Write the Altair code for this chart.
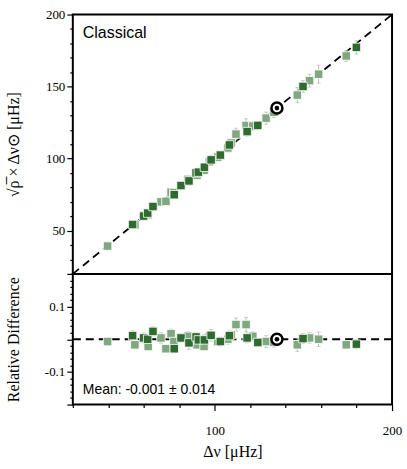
import altair as alt
import pandas as pd

# --- data ---
dnu = [39.6, 53.7, 55.0, 59.9, 62.2, 62.5, 65.2, 69.7, 72.5, 75.4, 77.2, 77.0, 81.0,
       84.8, 85.5, 89.5, 90.0, 90.8, 94.2, 94.0, 97.0, 98.0, 101.7, 103.2, 107.4, 108.3,
       109.3, 112.0, 117.7, 118.3, 121.5, 124.3, 129.0, 133.4, 146.6, 149.8, 153.5,
       158.6, 174.2, 179.9]
rel = [-0.007, 0.011, -0.017, 0.004, 0.000, -0.022, 0.024, 0.004, -0.029, 0.017, -0.029,
       -0.007, 0.004, 0.009, -0.011, 0.007, -0.017, -0.002, -0.002, -0.022, 0.009, 0.012,
       -0.007, -0.007, 0.000, 0.011, 0.014, 0.045, 0.045, 0.004, 0.009, -0.010, -0.007,
       -0.009, -0.017, 0.002, 0.004, 0.000, -0.017, -0.015]
err = [0.010, 0.015, 0.012, 0.015, 0.012, 0.010, 0.014, 0.016, 0.010, 0.014, 0.012,
       0.018, 0.012, 0.015, 0.020, 0.014, 0.010, 0.012, 0.016, 0.010, 0.012, 0.018,
       0.012, 0.014, 0.015, 0.016, 0.014, 0.020, 0.022, 0.015, 0.014, 0.012, 0.018,
       0.015, 0.020, 0.015, 0.016, 0.022, 0.012, 0.014]
shade = ["light", "dark", "light", "dark", "dark", "light", "dark", "light", "light",
         "light", "dark", "light", "dark", "light", "dark", "dark", "light", "dark",
         "dark", "light", "light", "dark", "light", "dark", "light", "dark", "light",
         "light", "light", "dark", "light", "dark", "light", "light", "light", "dark",
         "light", "light", "light", "dark"]
sun_dnu = [135.1]
sun_rel = [0.0]
line_x = [20, 200]
line_y = [20, 200]
zero_y = [0.0, 0.0]
panel_label = ["Classical"]
mean_label = ["Mean: -0.001 ± 0.014"]

X_DOM = [20, 200]
Y_DOM = [20, 200]
R_DOM = [-0.2, 0.2]

df = pd.DataFrame({"x": dnu, "r": rel, "e": err, "shade": shade})
df["y"] = df["x"] * (1 + df["r"])
df["ylo"] = df["x"] * (1 + df["r"] - 1.8 * df["e"])
df["yhi"] = df["x"] * (1 + df["r"] + 1.8 * df["e"])
df["rlo"] = df["r"] - df["e"]
df["rhi"] = df["r"] + df["e"]

sun = pd.DataFrame({"x": sun_dnu, "y": sun_dnu, "r": sun_rel})
diag = pd.DataFrame({"x": line_x, "y": line_y})
zero = pd.DataFrame({"x": line_x, "r": zero_y})

SERIF = "Liberation Serif"
SANS = "Liberation Sans"
GREY = "#b9b9b9"
colors = alt.Scale(domain=["light", "dark"], range=["#80a880", "#2f6b2f"])

xs = alt.Scale(domain=X_DOM, nice=False, zero=False)
ys = alt.Scale(domain=Y_DOM, nice=False, zero=False)
rs = alt.Scale(domain=R_DOM, nice=False, zero=False)

x_ticks = list(range(20, 201, 20))
y_ticks = list(range(20, 201, 10))
r_ticks = [round(-0.2 + 0.02 * i, 2) for i in range(21)]

ax_top_y = alt.Axis(values=y_ticks, title="√ρ̅ × Δν⊙ [μHz]",
                    labelExpr="datum.value % 50 === 0 ? datum.label : ''",
                    tickSize={"condition": {"test": "datum.value % 50 === 0", "value": 6}, "value": 3},
                    grid=False, domain=False, labelOverlap=False, labelFlush=False,
                    titleX=-51, titleY=130)
ax_bot_y = alt.Axis(values=r_ticks, title="Relative Difference",
                    labelExpr="abs(abs(datum.value) - 0.1) < 1e-6 ? (datum.value < 0 ? '-0.1' : '0.1') : ''",
                    tickSize={"condition": {"test": "abs(datum.value*10 - round(datum.value*10)) < 1e-6",
                                            "value": 6}, "value": 3},
                    grid=False, domain=False, labelOverlap=False, labelFlush=False,
                    titleX=-51, titleY=65.5)
ax_bot_x = alt.Axis(values=x_ticks, title="Δν [μHz]",
                    labelExpr="datum.value % 100 === 0 ? datum.label : ''",
                    tickSize={"condition": {"test": "datum.value % 100 === 0", "value": 6}, "value": 3},
                    grid=False, domain=False, labelOverlap=False, labelFlush=False,
                    labelBound=False, labelPadding=14, titlePadding=6)


def panel(yfield, lo, hi, scale, xaxis, yaxis, line_df, line_y, label, label_y, label_size, height):
    def X():
        return alt.X("x:Q", scale=xs, axis=xaxis)

    def Y(field):
        return alt.Y(f"{field}:Q", scale=scale, axis=yaxis)

    line = alt.Chart(line_df).mark_line(color="black", strokeDash=[8, 5], strokeWidth=1.8).encode(
        x=X(), y=Y(line_y))
    err_rule = alt.Chart(df).mark_rule(color=GREY, strokeWidth=1).encode(
        x=X(), y=Y(lo), y2=f"{hi}:Q")
    cap_lo = alt.Chart(df).mark_tick(color=GREY, orient="horizontal", size=4, thickness=1).encode(
        x=X(), y=Y(lo))
    cap_hi = alt.Chart(df).mark_tick(color=GREY, orient="horizontal", size=4, thickness=1).encode(
        x=X(), y=Y(hi))
    pts = alt.Chart(df).mark_point(shape="square", filled=True, size=72, opacity=1,
                                    stroke="white", strokeWidth=0.8).encode(
        x=X(), y=Y(yfield),
        color=alt.Color("shade:N", scale=colors, legend=None),
        order=alt.Order("shade:N", sort="descending"))
    sun_o = alt.Chart(sun).mark_point(shape="circle", filled=True, size=121, fill="white",
                                       stroke="black", strokeWidth=2.5, opacity=1).encode(
        x=X(), y=Y(yfield))
    sun_i = alt.Chart(sun).mark_point(shape="circle", filled=True, size=22, color="black",
                                       opacity=1).encode(x=X(), y=Y(yfield))
    txt = alt.Chart(pd.DataFrame({"t": label})).mark_text(
        font=SANS, fontSize=label_size, align="left", baseline="middle", color="black").encode(
        x=alt.value(10), y=alt.value(label_y), text="t:N")
    return alt.layer(line, err_rule, cap_lo, cap_hi, pts, sun_o, sun_i, txt).properties(
        width=320, height=height)


top = panel("y", "ylo", "yhi", ys, None, ax_top_y, diag, "y", panel_label, 19, 16, 260)
bot = panel("r", "rlo", "rhi", rs, ax_bot_x, ax_bot_y, zero, "r", mean_label, 116, 14, 131)

chart = alt.vconcat(top, bot, spacing=0, bounds="flush").properties(
    padding={"left": 5, "top": 7, "right": 4, "bottom": 8},
    background="white",
).configure_view(stroke="black", strokeWidth=2).configure_axis(
    labelFont=SERIF, labelFontSize=13, labelColor="black",
    titleFont=SERIF, titleFontSize=16, titleFontWeight="normal", titleColor="black",
    tickColor="black", tickWidth=1.2, labelPadding=2,
)

chart.save("out.html", embed_options={"renderer": "svg", "actions": False})
